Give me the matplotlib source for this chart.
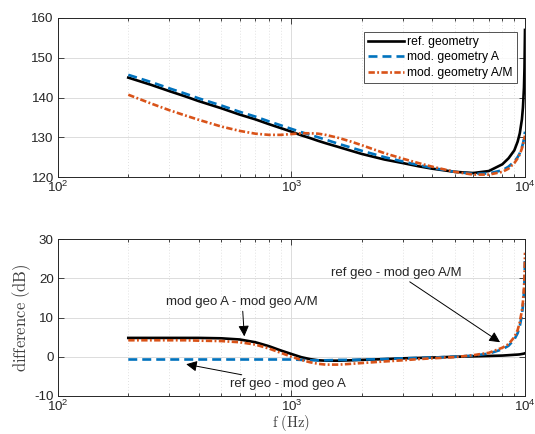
import matplotlib
matplotlib.use("Agg")
import matplotlib.pyplot as plt
from matplotlib.ticker import LogLocator, NullFormatter, FixedLocator

# ---------------- data ----------------
freq = [200, 250, 300, 350, 400, 500, 600, 700, 800, 900, 1000, 1100, 1200, 1300,
        1400, 1600, 1800, 2000, 2500, 3000, 3500, 4000, 5000, 6000, 7000, 8000,
        8500, 9000, 9300, 9500, 9700, 9800, 9900, 9950, 10000]

ref_geo = [145.0, 143.2, 141.6, 140.3, 139.1, 137.3, 135.7, 134.5, 133.3, 132.3,
           131.4, 130.5, 129.8, 129.1, 128.5, 127.5, 126.6, 125.8, 124.4, 123.5,
           122.7, 122.1, 121.3, 121.0, 121.5, 123.2, 124.7, 126.7, 128.9, 131.0,
           134.5, 137.5, 142.5, 147.5, 157.0]

mod_A = [145.7, 143.9, 142.3, 141.0, 139.8, 138.0, 136.4, 135.2, 134.0, 133.0,
         132.1, 131.3, 130.6, 130.0, 129.4, 128.3, 127.4, 126.6, 125.0, 123.9,
         123.0, 122.3, 121.3, 120.8, 120.9, 121.7, 122.6, 123.9, 125.0, 126.0,
         127.5, 128.4, 129.6, 130.4, 131.4]

mod_AM = [140.7, 138.5, 136.8, 135.5, 134.4, 132.7, 131.6, 130.9, 130.6, 130.6,
          130.8, 131.0, 131.0, 130.9, 130.6, 129.8, 128.9, 128.0, 126.0, 124.6,
          123.5, 122.6, 121.3, 120.6, 120.6, 121.3, 122.1, 123.5, 124.7, 125.7,
          127.2, 128.1, 129.3, 129.9, 130.4]

diff_A_AM = [4.8, 4.8, 4.8, 4.8, 4.8, 4.7, 4.4, 3.7, 2.7, 1.6,
             0.7, -0.1, -0.6, -0.9, -1.0, -1.0, -0.9, -0.8, -0.6, -0.4,
             -0.3, -0.2, 0.0, 0.1, 0.2, 0.3, 0.4, 0.5, 0.55, 0.6,
             0.7, 0.75, 0.8, 0.85, 0.9]

diff_ref_A = [-0.7, -0.7, -0.7, -0.7, -0.7, -0.7, -0.7, -0.7, -0.7, -0.7,
              -0.7, -0.8, -0.9, -0.9, -0.9, -0.8, -0.8, -0.7, -0.6, -0.4,
              -0.3, -0.2, 0.0, 0.3, 0.8, 1.9, 2.8, 4.4, 6.0, 7.8,
              10.7, 13.0, 16.5, 19.5, 25.0]

diff_ref_AM = [4.2, 4.2, 4.2, 4.2, 4.1, 4.0, 3.7, 3.1, 2.1, 1.0,
               0.0, -0.8, -1.4, -1.8, -2.0, -2.0, -1.8, -1.6, -1.2, -0.9,
               -0.6, -0.4, -0.1, 0.4, 1.0, 2.3, 3.2, 5.0, 6.8, 8.8,
               11.8, 14.0, 17.5, 20.5, 26.5]

legend_labels = ["ref. geometry", "mod. geometry A", "mod. geometry A/M"]
top_yticks = [120, 130, 140, 150, 160]
bot_yticks = [-10, 0, 10, 20, 30]
xticks = [1e2, 1e3, 1e4]
xticklabels = [r"$\mathregular{10^{2}}$", r"$\mathregular{10^{3}}$", r"$\mathregular{10^{4}}$"]

# ---------------- style ----------------
plt.rcParams["font.family"] = ["Liberation Sans", "DejaVu Sans"]
plt.rcParams["mathtext.fontset"] = "custom"
plt.rcParams["mathtext.rm"] = "Liberation Sans"
plt.rcParams["mathtext.it"] = "Liberation Sans:italic"

BLACK = "#000000"
BLUE = "#0072BD"
RED = "#D95319"
AXC = "#262626"
DASH = (0, (3.4, 1.9))
DASHDOT = (0, (2.4, 0.9, 0.7, 0.9))

fig = plt.figure(figsize=(5.35, 4.34), dpi=100)
L, R = 0.1084, 0.9813
ax1 = fig.add_axes([L, 1 - 177 / 434, R - L, (177 - 18) / 434])
ax2 = fig.add_axes([L, 1 - 396 / 434, R - L, (396 - 239) / 434])


def style_axes(ax, yticks):
    ax.set_xscale("log")
    ax.set_xlim(1e2, 1e4)
    ax.set_ylim(yticks[0], yticks[-1])
    ax.yaxis.set_major_locator(FixedLocator(yticks))
    ax.set_yticklabels([str(t) for t in yticks])
    ax.xaxis.set_major_locator(FixedLocator(xticks))
    ax.set_xticklabels(xticklabels)
    ax.xaxis.set_minor_locator(LogLocator(base=10, subs=range(2, 10)))
    ax.xaxis.set_minor_formatter(NullFormatter())
    ax.tick_params(which="both", direction="in", top=True, right=True,
                   colors=AXC, labelsize=9.6, width=0.6)
    ax.tick_params(which="major", length=4)
    ax.tick_params(which="minor", length=2.5)
    ax.tick_params(axis="x", pad=2)
    ax.tick_params(axis="y", pad=3)
    for s in ax.spines.values():
        s.set_color(AXC)
        s.set_linewidth(0.7)
    ax.grid(which="major", color="#dcdcdc", linewidth=0.7, linestyle="-")
    ax.grid(which="minor", axis="x", color="#d8d8d8", linewidth=0.6,
            linestyle=(0, (1, 2.5)))
    ax.set_axisbelow(True)


style_axes(ax1, top_yticks)
style_axes(ax2, bot_yticks)

lw = 1.9
ax1.plot(freq, ref_geo, color=BLACK, lw=lw, label=legend_labels[0])
ax1.plot(freq, mod_A, color=BLUE, lw=lw, linestyle=DASH, label=legend_labels[1])
ax1.plot(freq, mod_AM, color=RED, lw=lw, linestyle=DASHDOT, label=legend_labels[2])

leg = ax1.legend(loc="upper right", bbox_to_anchor=(0.982, 0.915), fontsize=8.7,
                 frameon=True, fancybox=False, handlelength=3.0, handletextpad=0.2,
                 borderpad=0.35, labelspacing=0.3, borderaxespad=0.0)
leg.get_frame().set_edgecolor(AXC)
leg.get_frame().set_linewidth(0.7)

ax2.plot(freq, diff_A_AM, color=BLACK, lw=lw)
ax2.plot(freq, diff_ref_A, color=BLUE, lw=lw, linestyle=DASH)
ax2.plot(freq, diff_ref_AM, color=RED, lw=lw, linestyle=DASHDOT)

ax2.set_ylabel(r"$\mathrm{difference\ (dB)}$", math_fontfamily="cm", fontsize=12,
               color="#404040", labelpad=1)
ax2.set_xlabel(r"$\mathrm{f\ (Hz)}$", math_fontfamily="cm", fontsize=10.5,
               color="#404040", va="bottom")
ax2.xaxis.set_label_coords(0.5, -0.238)

arrow = dict(arrowstyle="-|>", color="black", lw=0.7, mutation_scale=16,
             shrinkA=0, shrinkB=0)
ax2.annotate("mod geo A - mod geo A/M", xy=(628, 5.2), xytext=(615, 12.3),
             fontsize=9.5, color=AXC, ha="center", va="bottom",
             arrowprops=arrow)
ax2.annotate("ref geo - mod geo A", xy=(354, -1.9), xytext=(545, -5.3),
             fontsize=9.5, color=AXC, ha="left", va="top",
             arrowprops=arrow)
ax2.annotate("ref geo - mod geo A/M", xy=(7820, 3.7), xytext=(5370, 19.8),
             fontsize=9.5, color=AXC, ha="right", va="bottom",
             arrowprops=arrow)

fig.savefig("out.png", dpi=100)
